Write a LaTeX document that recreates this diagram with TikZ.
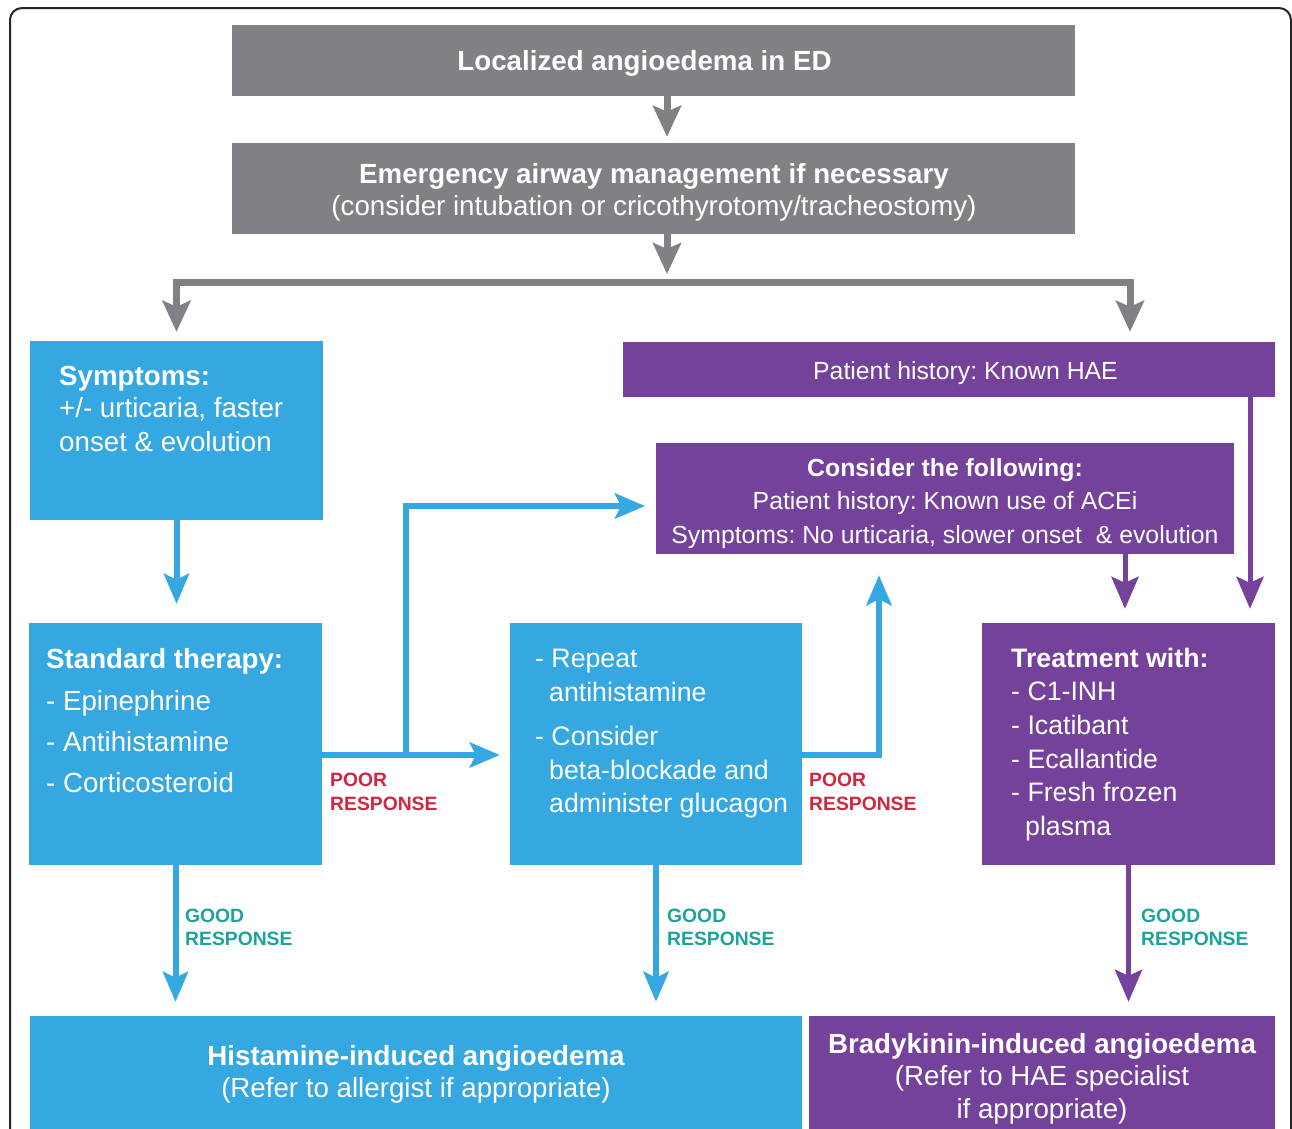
\documentclass[tikz,border=0pt]{standalone}
\usepackage{fontspec}
\setmainfont{Liberation Sans}
\usetikzlibrary{arrows.meta}
\definecolor{cgray}{HTML}{808184}
\definecolor{cblue}{HTML}{35A7E1}
\definecolor{cpurple}{HTML}{75429B}
\definecolor{cred}{HTML}{D1263F}
\definecolor{cteal}{HTML}{1BA59A}
\newcommand\FsBig{\fontsize{27.7}{33}\selectfont}
\newcommand\FsMid{\fontsize{26.7}{33}\selectfont}
\newcommand\FsSml{\fontsize{24.8}{30}\selectfont}
\newcommand\FsLab{\fontsize{19.3}{24}\selectfont}
\frenchspacing
\begin{document}
\frenchspacing
\begin{tikzpicture}[x=1pt,y=-1pt,
  box/.style={rectangle,inner sep=0pt,draw=none},
  tl/.style={inner sep=0pt,text=white,anchor=base west},
  tc/.style={inner sep=0pt,text=white,anchor=base},
  poor/.style={inner sep=0pt,text=cred,anchor=base west,font=\FsLab\bfseries},
  good/.style={inner sep=0pt,text=cteal,anchor=base west,font=\FsLab\bfseries},
  garr/.style={draw=cgray,line width=7pt,-{Stealth[length=31pt,width=28pt,inset=6pt]}},
  barr/.style={draw=cblue,line width=6pt,-{Stealth[length=30pt,width=25pt,inset=6pt]}},
  parr/.style={draw=cpurple,line width=5pt,-{Stealth[length=32pt,width=27pt,inset=6pt]}}]
\useasboundingbox (0,0) rectangle (1292,1128);
\clip (0,0) rectangle (1292,1128);
\fill[white] (0,0) rectangle (1292,1128);
\draw[line width=2pt,rounded corners=12pt,black!85] (10,8) rectangle (1291,1170);

% boxes
\node[box,fill=cgray,minimum width=843pt,minimum height=71pt] (b1) at (653.5,60.5) {};
\node[box,fill=cgray,minimum width=843pt,minimum height=91pt] (b2) at (653.5,188.5) {};
\node[box,fill=cblue,minimum width=293pt,minimum height=179pt] (sym) at (176.5,430.5) {};
\node[box,fill=cblue,minimum width=293pt,minimum height=242pt] (std) at (175.5,744) {};
\node[box,fill=cblue,minimum width=292pt,minimum height=242pt] (mid) at (656,744) {};
\node[box,fill=cpurple,minimum width=652pt,minimum height=55pt] (hae) at (949,369.5) {};
\node[box,fill=cpurple,minimum width=578pt,minimum height=111pt] (cons) at (945,498.5) {};
\node[box,fill=cpurple,minimum width=293pt,minimum height=242pt] (trt) at (1128.5,744) {};
\node[box,fill=cblue,minimum width=772pt,minimum height=124pt] (his) at (416,1078) {};
\node[box,fill=cpurple,minimum width=466pt,minimum height=124pt] (bra) at (1042,1078) {};

% texts
\node[tc,font=\FsBig\bfseries] (t1) at (644.5,70) {Localized angioedema in ED};
\node[tc,font=\FsBig\bfseries] (t2a) at (654,183) {Emergency airway management if necessary};
\node[tc,font=\FsBig] (t2b) at (654,215) {(consider intubation or cricothyrotomy/tracheostomy)};

\node[tl,font=\FsBig\bfseries] (s1) at (59,385) {Symptoms:};
\node[tl,font=\FsBig] (s2) at (59,417) {+/- urticaria, faster};
\node[tl,font=\FsBig] (s3) at (59,451) {onset \& evolution};

\node[tl,font=\FsBig\bfseries] (st1) at (46,668) {Standard therapy:};
\node[tl,font=\FsBig] (st2) at (46,710) {- Epinephrine};
\node[tl,font=\FsBig] (st3) at (46,751) {- Antihistamine};
\node[tl,font=\FsBig] (st4) at (46,792) {- Corticosteroid};

\node[tl,font=\FsMid] (m1) at (535,667) {- Repeat};
\node[tl,font=\FsMid] (m2) at (549,701) {antihistamine};
\node[tl,font=\FsMid] (m3) at (535,745) {- Consider};
\node[tl,font=\FsMid] (m4) at (549,779) {beta-blockade and};
\node[tl,font=\FsMid] (m5) at (549,812) {administer glucagon};

\node[tc,font=\FsSml] (h1) at (965.5,379) {Patient history: Known HAE};

\node[tc,font=\FsSml\bfseries] (c1) at (945,476) {Consider the following:};
\node[tc,font=\FsSml] (c2) at (945,509) {Patient history: Known use of ACEi};
\node[tc,font=\FsSml] (c3) at (945,543) {Symptoms: No urticaria, slower onset\ \ \& evolution};

\node[tl,font=\FsMid\bfseries] (r1) at (1011,667) {Treatment with:};
\node[tl,font=\FsMid] (r2) at (1011,700) {- C1-INH};
\node[tl,font=\FsMid] (r3) at (1011,734) {- Icatibant};
\node[tl,font=\FsMid] (r4) at (1011,768) {- Ecallantide};
\node[tl,font=\FsMid] (r5) at (1011,801) {- Fresh frozen};
\node[tl,font=\FsMid] (r6) at (1025,835) {plasma};

\node[tc,font=\FsBig\bfseries] (hi1) at (416,1065) {Histamine-induced angioedema};
\node[tc,font=\FsBig] (hi2) at (416,1097) {(Refer to allergist if appropriate)};

\node[tc,font=\FsBig\bfseries] (br1) at (1042,1053) {Bradykinin-induced angioedema};
\node[tc,font=\FsBig] (br2) at (1042,1085) {(Refer to HAE specialist};
\node[tc,font=\FsBig] (br3) at (1042,1118) {if appropriate)};

% labels
\node[poor] (p1a) at (330,786) {POOR};
\node[poor] (p1b) at (330,810) {RESPONSE};
\node[poor] (p2a) at (809,786) {POOR};
\node[poor] (p2b) at (809,810) {RESPONSE};
\node[good] (g1a) at (185,922) {GOOD};
\node[good] (g1b) at (185,945) {RESPONSE};
\node[good] (g2a) at (667,922) {GOOD};
\node[good] (g2b) at (667,945) {RESPONSE};
\node[good] (g3a) at (1141,922) {GOOD};
\node[good] (g3b) at (1141,945) {RESPONSE};

% connectors
\coordinate (J) at (667,282);
\coordinate (JR) at (1130,282);
\draw[garr,shorten >=6pt] (b1.south -| J) -- (b2.north -| J);
\draw[garr,shorten >=8pt] (b2.south -| J) -- (J);
\draw[garr,shorten >=9pt] (J) -| (sym.north);
\draw[garr,shorten >=10pt] (J) -| (hae.north -| JR);

\draw[barr,shorten >=19pt] (sym.south) -- (std.north -| sym.south);
\coordinate (P1) at (406,755);
\coordinate (A1) at (656,506);
\coordinate (P2) at (879,755);
\draw[barr,shorten >=10pt] (std.east |- P1) -- (mid.west |- P1);
\draw[barr,shorten >=11pt] (P1) |- (A1);
\draw[barr,shorten >=21pt] (mid.east |- P2) -| (cons.south -| P2);

\coordinate (Q1) at (1125,600);
\coordinate (Q2) at (1250,600);
\draw[parr,shorten >=14pt] (cons.south -| Q1) -- (trt.north -| Q1);
\draw[parr,shorten >=14pt] (hae.south -| Q2) -- (trt.north -| Q2);

\draw[barr,shorten >=14pt] (std.south) -- (his.north -| std.south);
\draw[barr,shorten >=14pt] (mid.south) -- (his.north -| mid.south);
\draw[parr,shorten >=14pt] (trt.south) -- (bra.north -| trt.south);
\end{tikzpicture}
\end{document}
